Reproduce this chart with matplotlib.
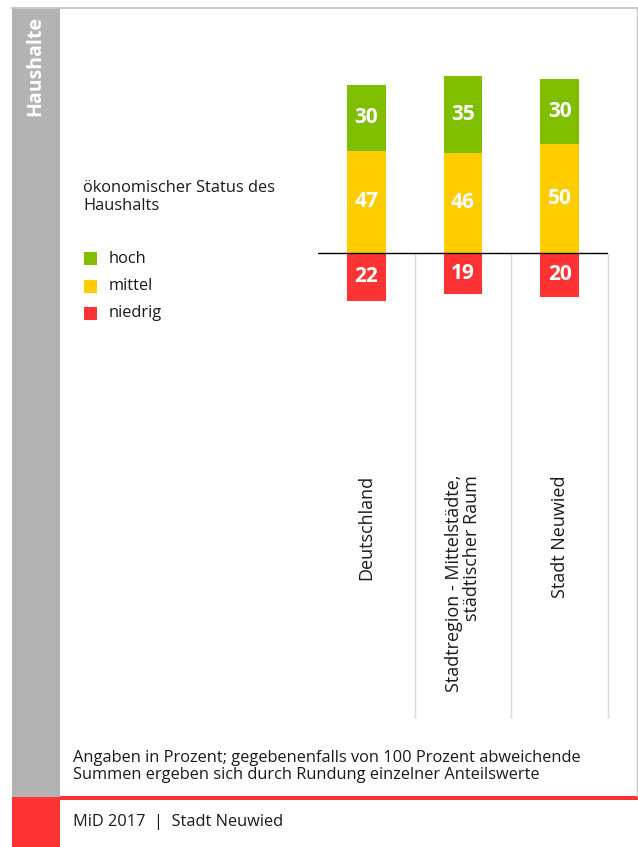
import matplotlib
matplotlib.use('Agg')
import matplotlib.pyplot as plt
from matplotlib.patches import Rectangle
from matplotlib.lines import Line2D

plt.rcParams['font.family'] = ['Open Sans', 'DejaVu Sans']

# ---- data ----
categories = ['Deutschland', 'Stadtregion - Mittelstädte,\nstädtischer Raum', 'Stadt Neuwied']
hoch = [30, 35, 30]
mittel = [47, 46, 50]
niedrig = [22, 19, 20]
series_names = ['hoch', 'mittel', 'niedrig']
legend_title = 'ökonomischer Status des\nHaushalts'
side_title = 'Haushalte'
note = ('Angaben in Prozent; gegebenenfalls von 100 Prozent abweichende\n'
        'Summen ergeben sich durch Rundung einzelner Anteilswerte')
footer = 'MiD 2017  |  Stadt Neuwied'

GREEN = '#80be00'
YELLOW = '#ffcc00'
RED = '#ff3333'
GREY = '#b3b3b3'
colors = [GREEN, YELLOW, RED]

W, H = 638, 847
fig = plt.figure(figsize=(W / 100, H / 100), dpi=100)


def fx(x):
    return x / W


def fy(y):
    return 1 - y / H


def rect(x0, y0, x1, y1, color, z=0):
    fig.add_artist(Rectangle((fx(x0), fy(y1)), (x1 - x0) / W, (y1 - y0) / H,
                             transform=fig.transFigure, facecolor=color,
                             edgecolor='none', lw=0, zorder=z))


def line(x0, y0, x1, y1, color, lw):
    fig.add_artist(Line2D([fx(x0), fx(x1)], [fy(y0), fy(y1)],
                          transform=fig.transFigure, color=color, lw=lw))


# frame
rect(12, 8, 60, 797, GREY)
rect(12, 797, 60, 847, RED)
rect(60, 795.5, 638, 799.5, RED)
line(12, 8, 638, 8, '#c8c8c8', 1.5)
line(636.5, 8, 636.5, 796, '#c8c8c8', 1.0)

fig.text(fx(35), fy(16), side_title, rotation=90, ha='center', va='top',
         color='white', fontsize=14, fontweight='bold')

# ---- axes ----
base_y, scale = 253.0, 2.18
top_px, bot_px = 60, 718
ax = fig.add_axes([fx(318), fy(bot_px), (608 - 318) / W, (bot_px - top_px) / H])
ymin = -(bot_px - base_y) / scale
ymax = (base_y - top_px) / scale
ax.set_xlim(-0.5, 2.5)
ax.set_ylim(ymin, ymax)
ax.axis('off')

x = list(range(len(categories)))
bw = 0.40
ax.bar(x, mittel, width=bw, color=YELLOW, zorder=2)
ax.bar(x, hoch, width=bw, bottom=mittel, color=GREEN, zorder=2)
ax.bar(x, [-v for v in niedrig], width=bw, color=RED, zorder=2)

ax.vlines([0.5, 1.5, 2.5], ymin, 0, colors='#d9d9d9', lw=1.0, clip_on=False, zorder=1)
ax.axhline(0, color='black', lw=1.0, zorder=3)

vfs = 15
for i in x:
    ax.text(i, mittel[i] + hoch[i] / 2, str(hoch[i]), ha='center', va='center',
            color='white', fontsize=vfs, fontweight='bold', zorder=4)
    ax.text(i, mittel[i] / 2, str(mittel[i]), ha='center', va='center',
            color='white', fontsize=vfs, fontweight='bold', zorder=4)
    ax.text(i, -niedrig[i] / 2, str(niedrig[i]), ha='center', va='center',
            color='white', fontsize=vfs, fontweight='bold', zorder=4)
    ax.text(i, -(475 - base_y) / scale, categories[i], rotation=90,
            ha='center', va='top', multialignment='right', fontsize=13,
            color='#1a1a1a', linespacing=1.05)

# ---- legend ----
fig.text(fx(83), fy(180), legend_title, ha='left', va='top', fontsize=11.8,
         color='#1a1a1a', linespacing=1.15)
for k, (name, c) in enumerate(zip(series_names, colors)):
    cy = 259 + 27 * k
    rect(84, cy - 6.5, 97, cy + 6.5, c, z=2)
    fig.text(fx(109), fy(cy), name, ha='left', va='center', fontsize=11.8,
             color='#1a1a1a')

# ---- notes ----
fig.text(fx(73), fy(750), note, ha='left', va='top', fontsize=11.8,
         color='#1a1a1a', linespacing=1.05)
fig.text(fx(73), fy(822), footer, ha='left', va='center', fontsize=11.8,
         color='#1a1a1a')

fig.savefig('out.png', dpi=100)
